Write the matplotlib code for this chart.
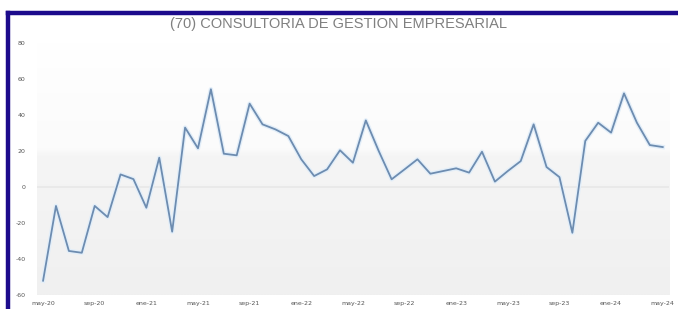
import numpy as np
import matplotlib
matplotlib.use('Agg')
import matplotlib.pyplot as plt
from matplotlib.lines import Line2D

# Datos (mensual, may-20 a may-24)
valores = [-52, -10.5, -35.5, -36.5, -10.5, -16.7, 7, 4.4, -11.5, 16.3,
           -24.8, 33, 21.5, 54.3, 18.5, 17.6, 46.3, 34.8, 32, 28.3,
           15.4, 6.1, 9.8, 20.4, 13.5, 37, 20, 4.3, 9.8, 15.4,
           7.4, 8.9, 10.4, 8, 19.6, 3, 8.9, 14.4, 34.8, 11.1,
           5.5, -25.4, 25.6, 35.7, 30.2, 52, 35.7, 23.3, 22.2]
etiquetas_x = ['may-20', 'sep-20', 'ene-21', 'may-21', 'sep-21', 'ene-22',
               'may-22', 'sep-22', 'ene-23', 'may-23', 'sep-23', 'ene-24',
               'may-24']
ticks_y = [-60, -40, -20, 0, 20, 40, 60, 80]
titulo = '(70) CONSULTORIA DE GESTION EMPRESARIAL'

x = np.arange(len(valores))

fig = plt.figure(figsize=(6.78, 3.09), dpi=100)
fig.patch.set_facecolor('white')
ax = fig.add_axes([0.054, 0.045, 0.933, 0.816])

# fondo degradado del area de trazado
grad = np.linspace(0, 1, 256).reshape(-1, 1)
cmap = matplotlib.colors.LinearSegmentedColormap.from_list(
    'fondo', [(0.0, '#f0f0f0'), (0.55, '#f5f5f5'), (0.58, '#fbfbfb'),
              (0.8, '#fdfdfd'), (1.0, '#ffffff')])
ax.imshow(grad, aspect='auto', cmap=cmap, origin='lower',
          extent=(-0.5, len(valores) - 0.5, -60, 80), zorder=0)

ax.axhline(0, color='#e8e8e8', lw=1.2, zorder=1)
ax.axhline(-60, color='#e0e0e0', lw=0.8, ls=':', zorder=1)

# linea con halo claro
ax.plot(x, valores, c='#e2eef9', lw=3.2, zorder=2)
ax.plot(x, valores, c='#6d8cb0', lw=1.3, zorder=3)

ax.set_xlim(-0.5, len(valores) - 0.5)
ax.set_ylim(-60, 80)
ax.set_yticks(ticks_y)
ax.set_yticklabels([str(t) for t in ticks_y])
ax.set_xticks(x[::4])
ax.set_xticklabels(etiquetas_x)
ax.tick_params(length=0, labelsize=4.5, labelcolor='#555555')
ax.tick_params(axis='x', pad=4)
ax.tick_params(axis='y', pad=8)
for s in ax.spines.values():
    s.set_visible(False)

fig.text(0.5, 0.922, titulo, ha='center', va='center', fontsize=10.5,
         color='#808080', family='Liberation Sans')

# marco azul
fig.add_artist(Line2D([0.0118, 1.0], [0.958, 0.958], color='#1c0b8c', lw=3.2))
fig.add_artist(Line2D([0.0118, 0.0118], [0.0, 0.958], color='#1c0b8c', lw=3.2))

fig.savefig('out.png', dpi=100)
